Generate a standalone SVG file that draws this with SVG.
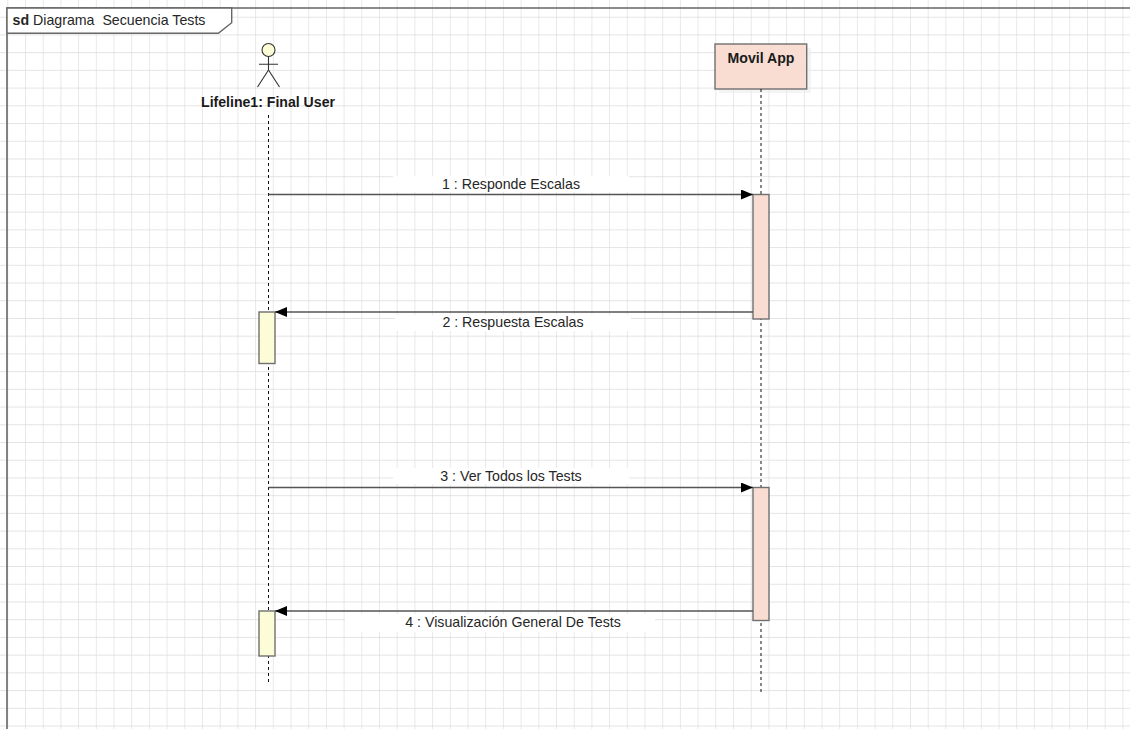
<svg xmlns="http://www.w3.org/2000/svg" width="1130" height="729" viewBox="0 0 1130 729">
<style>
.lbl{font-family:"Liberation Sans",Arial,sans-serif;font-size:14.2px;fill:#262626;}
.bold{font-family:"Liberation Sans",Arial,sans-serif;font-size:14.1px;font-weight:bold;fill:#1a1a1a;}
.life{stroke:#111;stroke-width:1;stroke-dasharray:3,3;fill:none;}
.msg{stroke:#555;stroke-width:1.4;fill:none;}
.actbox{fill:#fcfcd6;stroke:#6f6f6f;stroke-width:1.4;}
.appbox{fill:#f9ddd3;stroke:#6f6f6f;stroke-width:1.4;}
.bg{fill:#ffffff;}
</style>
<defs>
<pattern id="grid" patternUnits="userSpaceOnUse" x="7.3" y="-1" width="17.7" height="17.72">
<path d="M0 0H17.7M0 0V17.72" stroke="#dcdcdc" stroke-width="1.3" fill="none"/>
</pattern>
<marker id="arr" markerWidth="12" markerHeight="10" refX="12" refY="5" orient="auto" markerUnits="userSpaceOnUse">
<path d="M0 0L12 5L0 10Z" fill="#000"/>
</marker>
</defs>
<rect width="1130" height="729" fill="#fff"/>
<rect width="1130" height="729" fill="url(#grid)"/>
<g id="frame">
<path d="M7 740V8H1140" fill="none" stroke="#666" stroke-width="1.6"/>
<path d="M7 8H231.7V22.7L218.3 33.3H7Z" fill="#fff" stroke="#666" stroke-width="1.4"/>
<text x="12.5" y="25" class="lbl" xml:space="preserve"><tspan font-weight="bold">sd</tspan> Diagrama  Secuencia Tests</text>
</g>
<g id="actor">
<circle cx="268.5" cy="50" r="6.5" fill="#fcfcd6" stroke="#333" stroke-width="1.1"/>
<path d="M268.5 56.5V70M259 64.3H278M268.5 70L257.5 87M268.5 70L279.5 87" stroke="#333" stroke-width="1.1" fill="none"/>
<text x="268" y="106.7" text-anchor="middle" class="bold">Lifeline1: Final User</text>
<line x1="268.5" y1="115" x2="268.5" y2="683" class="life"/>
</g>
<g id="movil">
<rect x="719" y="48" width="92" height="45" fill="#ececec" opacity="0.6"/>
<rect x="715" y="44" width="91.7" height="45" class="appbox"/>
<text x="761" y="63.3" text-anchor="middle" class="bold">Movil App</text>
<line x1="761" y1="89" x2="761" y2="692" class="life"/>
</g>
<g id="activations">
<rect x="753" y="194.5" width="16" height="124.5" class="appbox"/>
<rect x="753" y="487.5" width="16" height="133" class="appbox"/>
<rect x="259" y="312" width="16" height="51.5" class="actbox"/>
<rect x="259" y="611" width="16" height="45" class="actbox"/>
</g>
<g id="connectors">
<line x1="268.5" y1="194.5" x2="753" y2="194.5" class="msg" marker-end="url(#arr)"/>
<line x1="753" y1="312" x2="275" y2="312" class="msg" marker-end="url(#arr)"/>
<line x1="268.5" y1="487.5" x2="753" y2="487.5" class="msg" marker-end="url(#arr)"/>
<line x1="753" y1="611" x2="275" y2="611" class="msg" marker-end="url(#arr)"/>
<rect x="393" y="176" width="236" height="16" class="bg"/>
<text x="511" y="188.5" text-anchor="middle" class="lbl">1 : Responde Escalas</text>
<rect x="395" y="315" width="236" height="16" class="bg"/>
<text x="513" y="327" text-anchor="middle" class="lbl">2 : Respuesta Escalas</text>
<rect x="393" y="468" width="236" height="16" class="bg"/>
<text x="511" y="480.7" text-anchor="middle" class="lbl">3 : Ver Todos los Tests</text>
<rect x="345" y="614" width="310" height="18" class="bg"/>
<text x="513" y="626.5" text-anchor="middle" class="lbl">4 : Visualización General De Tests</text>
</g>
</svg>
